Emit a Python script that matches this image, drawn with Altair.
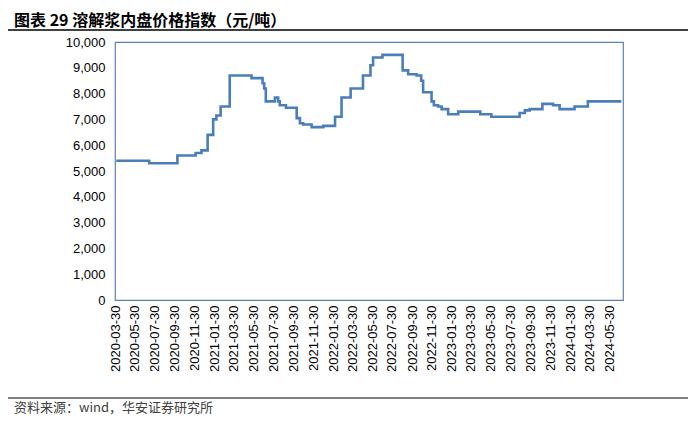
import altair as alt
import pandas as pd

# ---- data ----
dates = ["2020-04-03", "2020-07-13", "2020-10-08", "2020-12-03", "2020-12-21",
         "2021-01-09", "2021-01-26", "2021-02-05", "2021-02-18", "2021-03-18",
         "2021-05-24", "2021-06-27", "2021-07-02", "2021-07-07", "2021-08-04",
         "2021-08-14", "2021-08-19", "2021-09-07", "2021-10-10", "2021-10-20",
         "2021-10-30", "2021-11-25", "2021-12-31", "2022-02-05", "2022-02-25",
         "2022-03-25", "2022-05-02", "2022-05-25", "2022-06-02", "2022-07-01",
         "2022-09-01", "2022-09-18", "2022-10-14", "2022-10-28", "2022-11-03",
         "2022-11-29", "2022-12-06", "2022-12-19", "2022-12-30", "2023-01-19",
         "2023-02-19", "2023-04-28", "2023-06-01", "2023-08-27", "2023-09-12",
         "2023-09-27", "2023-11-05", "2023-12-08", "2023-12-28", "2024-02-12",
         "2024-03-24", "2024-07-05"]
values = [5400, 5300, 5600, 5700, 5800,
          6400, 7000, 7150, 7500, 8700,
          8600, 8400, 8200, 7700, 7850,
          7700, 7550, 7450, 7050, 6850,
          6800, 6700, 6750, 7100, 7850,
          8200, 8700, 9100, 9400, 9500,
          8900, 8750, 8700, 8500, 8050,
          7700, 7550, 7500, 7400, 7200,
          7300, 7200, 7100, 7250, 7350,
          7400, 7600, 7550, 7400, 7500,
          7700, 7700]

tick_labels = ["2020-03-30", "2020-05-30", "2020-07-30", "2020-09-30", "2020-11-30",
               "2021-01-30", "2021-03-30", "2021-05-30", "2021-07-30", "2021-09-30",
               "2021-11-30", "2022-01-30", "2022-03-30", "2022-05-30", "2022-07-30",
               "2022-09-30", "2022-11-30", "2023-01-30", "2023-03-30", "2023-05-30",
               "2023-07-30", "2023-09-30", "2023-11-30", "2024-01-30", "2024-03-30",
               "2024-05-30"]
y_ticks = [0, 1000, 2000, 3000, 4000, 5000, 6000, 7000, 8000, 9000, 10000]

title_text = "图表 29 溶解浆内盘价格指数（元/吨）"
source_text = "资料来源：wind，华安证券研究所"

x_domain = ["2020-03-30", "2024-07-10"]


def ms(s):
    return int(pd.Timestamp(s, tz="UTC").value // 10**6)


df = pd.DataFrame({"date": [ms(d) for d in dates], "value": values})
tick_ms = [ms(t) for t in tick_labels]

W, H = 508, 258
LINE = "#4A7EBB"
FRAME = "#5B80B6"
FONT = "Liberation Sans"
CJK = "Noto Sans CJK SC"

line = alt.Chart(df).mark_line(
    color=LINE, strokeWidth=2.6, interpolate="step-after", strokeJoin="miter"
).encode(
    x=alt.X("date:T",
            scale=alt.Scale(type="utc", domain=[ms(x_domain[0]), ms(x_domain[1])]),
            axis=alt.Axis(values=tick_ms, labelExpr="utcFormat(datum.value, '%Y-%m-%d')",
                          labelAngle=270, labelFont=FONT, labelFontSize=13,
                          labelColor="#000000", labelPadding=5, ticks=False,
                          domain=False, grid=False, title=None,
                          labelOverlap=False, labelBound=False, labelFlush=False)),
    y=alt.Y("value:Q",
            scale=alt.Scale(domain=[0, 10000], nice=False, zero=True),
            axis=alt.Axis(values=y_ticks, format=",.0f", labelFont=FONT, labelFontSize=13,
                          labelColor="#000000", labelPadding=10, ticks=False,
                          domain=False, grid=False, title=None)),
)

deco = pd.DataFrame({"t": [title_text]})
title = alt.Chart(deco).mark_text(
    text=title_text, font=CJK, fontSize=16, fontWeight="bold", align="left",
    baseline="middle", color="#000000"
).encode(x=alt.value(-101), y=alt.value(-21))

source = alt.Chart(deco).mark_text(
    text=source_text, font=CJK, fontSize=13, align="left",
    baseline="middle", color="#404040"
).encode(x=alt.value(-101), y=alt.value(366))

rule_top = alt.Chart(deco).mark_rule(color="#000000", strokeWidth=1.5).encode(
    x=alt.value(-111), x2=alt.value(575), y=alt.value(-12))
rule_bot = alt.Chart(deco).mark_rule(color="#000000", strokeWidth=1.2).encode(
    x=alt.value(-111), x2=alt.value(575), y=alt.value(356))

chart = alt.layer(line, title, source, rule_top, rule_bot).properties(
    width=W, height=H,
    autosize=alt.AutoSizeParams(type="none"),
    padding={"left": 107, "top": 34, "right": 65, "bottom": 116},
    background="white",
).configure_view(stroke=FRAME, strokeWidth=1.2)

chart.save("out.html", embed_options={"renderer": "svg", "actions": False})
